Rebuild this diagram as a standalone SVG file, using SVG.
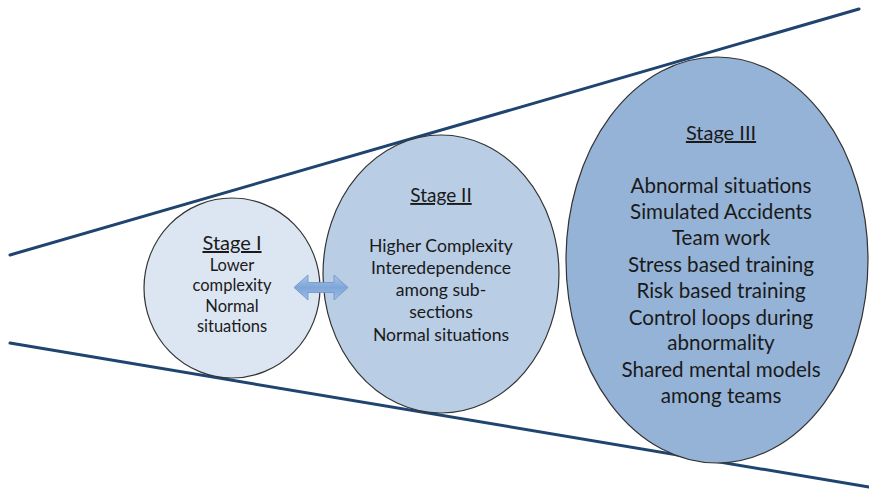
<svg xmlns="http://www.w3.org/2000/svg" width="869" height="492" viewBox="0 0 869 492">
  <style>
    .edge { stroke: #1f4470; stroke-width: 3; fill: none; stroke-linecap: round; }
    .stage { stroke: #333333; stroke-width: 1.2; }
    text { font-family: Lato, "Open Sans", "Liberation Sans", sans-serif; fill: #1a1a1a; text-anchor: middle; }
    .title { text-decoration: underline; }
  </style>
  <defs>
    <linearGradient id="arrowFill" x1="0" y1="0" x2="0" y2="1">
      <stop offset="0" stop-color="#a9c6ea"/>
      <stop offset="0.5" stop-color="#7ea6d8"/>
      <stop offset="1" stop-color="#9dbde6"/>
    </linearGradient>
  </defs>

  <!-- funnel boundary lines -->
  <g id="connectors">
    <line class="edge" x1="10" y1="255" x2="859" y2="9"/>
    <line class="edge" x1="10" y1="343" x2="869" y2="487"/>
  </g>

  <g id="stage1">
    <ellipse class="stage" cx="232" cy="288" rx="88" ry="90" fill="#dce6f2"/>
    <text class="title" x="232" y="250" font-size="20">Stage I</text>
    <text x="232" y="271" font-size="16.5">Lower</text>
    <text x="232" y="291" font-size="16.5">complexity</text>
    <text x="232" y="312" font-size="16.5">Normal</text>
    <text x="232" y="332" font-size="16.5">situations</text>
  </g>

  <g id="stage2">
    <ellipse class="stage" cx="441" cy="274" rx="118" ry="139" fill="#b9cde5"/>
    <text class="title" x="441" y="202" font-size="19">Stage II</text>
    <text x="441" y="252" font-size="17.6">Higher Complexity</text>
    <text x="441" y="274" font-size="17.6">Interedependence</text>
    <text x="441" y="296" font-size="17.6">among sub-</text>
    <text x="441" y="318" font-size="17.6">sections</text>
    <text x="441" y="341" font-size="17.6">Normal situations</text>
  </g>

  <g id="stage3">
    <ellipse class="stage" cx="717" cy="260" rx="151" ry="203" fill="#95b3d7"/>
    <text class="title" x="721" y="140" font-size="20">Stage III</text>
    <text x="721" y="193" font-size="20.6">Abnormal situations</text>
    <text x="721" y="219" font-size="20.6">Simulated Accidents</text>
    <text x="721" y="245" font-size="20.6">Team work</text>
    <text x="721" y="272" font-size="20.6">Stress based training</text>
    <text x="721" y="298" font-size="20.6">Risk based training</text>
    <text x="721" y="325" font-size="20.6">Control loops during</text>
    <text x="721" y="350" font-size="20.6">abnormality</text>
    <text x="721" y="377" font-size="20.6">Shared mental models</text>
    <text x="721" y="403" font-size="20.6">among teams</text>
  </g>

  <!-- double-headed arrow between stage I and stage II -->
  <g id="link">
    <path d="M294,287.5 L308,275 L308,282.5 L334,282.5 L334,275 L348,287.5 L334,300 L334,292.5 L308,292.5 L308,300 Z" fill="url(#arrowFill)" stroke="#6d93c4" stroke-width="0.8"/>
  </g>
</svg>
